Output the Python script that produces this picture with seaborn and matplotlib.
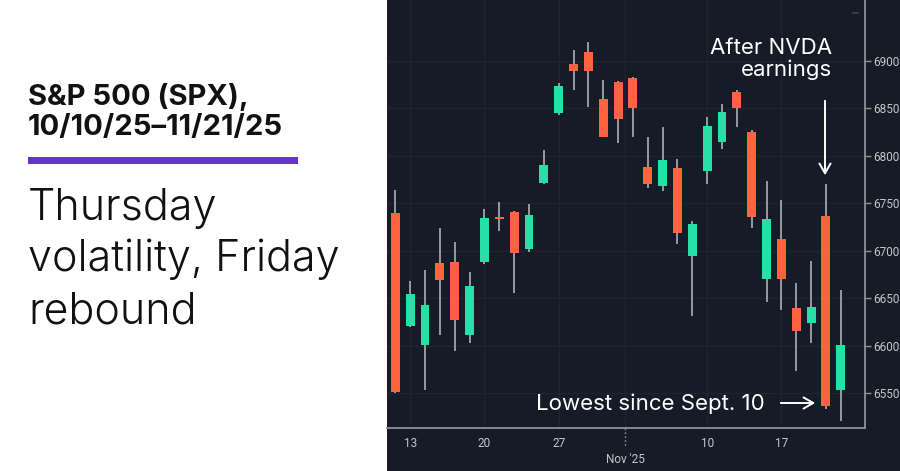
import numpy as np
import pandas as pd
import matplotlib
matplotlib.use("Agg")
import matplotlib.pyplot as plt
import matplotlib.transforms as mtransforms
from matplotlib import font_manager as fm
from matplotlib.patches import Rectangle
import seaborn as sns

# ---- data (S&P 500 daily OHLC, 10/10/25 - 11/21/25) ----
dates = ["10/10", "10/13", "10/14", "10/15", "10/16", "10/17",
         "10/20", "10/21", "10/22", "10/23", "10/24",
         "10/27", "10/28", "10/29", "10/30", "10/31",
         "11/03", "11/04", "11/05", "11/06", "11/07",
         "11/10", "11/11", "11/12", "11/13", "11/14",
         "11/17", "11/18", "11/19", "11/20", "11/21"]
opens = [6740, 6621, 6601, 6687, 6688, 6611,
         6688, 6736, 6741, 6702, 6771,
         6845, 6897, 6910, 6860, 6878,
         6882, 6788, 6768, 6787, 6695,
         6784, 6815, 6867, 6825, 6670,
         6713, 6640, 6624, 6737, 6553]
highs = [6764, 6668, 6680, 6724, 6709, 6678,
         6744, 6752, 6742, 6749, 6806,
         6877, 6912, 6920, 6880, 6879,
         6883, 6820, 6830, 6797, 6731,
         6841, 6855, 6870, 6827, 6774,
         6754, 6666, 6689, 6770, 6659]
lows = [6550, 6620, 6553, 6611, 6594, 6603,
        6686, 6721, 6656, 6699, 6770,
        6843, 6870, 6852, 6820, 6814,
        6820, 6766, 6763, 6707, 6631,
        6770, 6807, 6830, 6724, 6646,
        6638, 6573, 6603, 6533, 6521]
closes = [6551, 6655, 6643, 6669, 6627, 6663,
          6735, 6734, 6698, 6738, 6790,
          6874, 6890, 6890, 6820, 6839,
          6851, 6770, 6796, 6719, 6728,
          6832, 6846, 6850, 6736, 6734,
          6670, 6616, 6641, 6537, 6601]

x_tick_pos = [1, 6, 11, 15.5, 21, 26]
x_tick_labels = ["13", "20", "27", "", "10", "17"]
month_label = "Nov '25"
y_ticks = [6550, 6600, 6650, 6700, 6750, 6800, 6850, 6900]

df = pd.DataFrame({"date": dates, "open": opens, "high": highs,
                   "low": lows, "close": closes})
df["idx"] = np.arange(len(df))
df["up"] = df["close"] >= df["open"]
df["bottom"] = df[["open", "close"]].min(axis=1)
df["height"] = (df["close"] - df["open"]).abs()

BG = "#161c27"
GREEN = "#27e0a5"
RED = "#ff6241"
GRID = "#1e2531"
SPINE = "#8e9198"
TICKTXT = "#c3c6cb"
PURPLE = "#6633cc"

sns.set_theme(style="dark")
plt.rcParams["font.family"] = ["Inter", "DejaVu Sans"]

# choose a light-weight face for the subtitle if one is installed
light_family, light_weight = "Inter", "normal"
for fam in ["Inter", "Lato", "Open Sans", "Roboto", "Noto Sans"]:
    ws = [f.weight for f in fm.fontManager.ttflist if f.name == fam]
    ws_num = []
    for w in ws:
        try:
            ws_num.append(int(w))
        except (TypeError, ValueError):
            ws_num.append({"light": 300, "extra light": 200, "ultralight": 200,
                           "thin": 100}.get(str(w).lower(), 400))
    light = [w for w in ws_num if 200 <= w <= 300]
    if light:
        light_family, light_weight = fam, max(light)
        break

fig = plt.figure(figsize=(9, 4.71), dpi=100)
fig.patch.set_facecolor("white")
fig.patches.append(Rectangle((387 / 900, 0), 1 - 387 / 900, 1,
                             transform=fig.transFigure, facecolor=BG,
                             edgecolor="none", zorder=-10))

ax = fig.add_axes([387 / 900, 43 / 471, (865 - 387) / 900, 428 / 471])
ax.set_facecolor(BG)
ax.set_zorder(1)

# wicks
ax.vlines(df["idx"], df["low"], df["high"], color="#b9bcc2", lw=1.1, zorder=2)
# bodies
colors = [GREEN if u else RED for u in df["up"]]
ax.bar(df["idx"], df["height"], bottom=df["bottom"], width=0.6,
       color=colors, edgecolor="none", zorder=3)

ax.set_xlim(-0.56, 31.63)
ax.set_ylim(6513.4, 6964.3)

ax.set_xticks(x_tick_pos)
ax.set_xticklabels(x_tick_labels)
ax.set_yticks(y_ticks)
ax.set_yticklabels([str(v) for v in y_ticks])
ax.yaxis.tick_right()

ax.grid(True, color=GRID, lw=1.0)
ax.tick_params(axis="both", colors=SPINE, labelcolor=TICKTXT, labelsize=8.5,
               length=4, width=1, direction="out", pad=2.5,
               labelfontfamily="Roboto")
ax.tick_params(axis="y", pad=2)
for s in ["left", "top"]:
    ax.spines[s].set_visible(False)
for s in ["right", "bottom"]:
    ax.spines[s].set_visible(True)
    ax.spines[s].set_color(SPINE)
    ax.spines[s].set_linewidth(1.3)

# month marker below x-axis
trans = mtransforms.blended_transform_factory(ax.transData, ax.transAxes)
ax.plot([15.5, 15.5], [0, -0.045], transform=trans, color=SPINE, lw=1,
        ls=(0, (1.2, 1.6)), clip_on=False)
ax.text(15.5, -0.058, month_label, transform=trans, ha="center", va="top",
        color=TICKTXT, fontsize=8.5, family="Roboto")

# annotations
fig.text(832 / 900, 1 - 38 / 471, "After NVDA\nearnings",
         ha="right", va="top", color="white", fontsize=16, linespacing=1.1,
         zorder=5)
fig.add_artist(matplotlib.patches.FancyArrowPatch(
    (825 / 900, 1 - 98 / 471), (825 / 900, 1 - 178 / 471),
    transform=fig.transFigure,
    arrowstyle="->,head_length=7,head_width=4", color="white", lw=1.4,
    zorder=5))
fig.text(765 / 900, 1 - 404 / 471, "Lowest since Sept. 10", ha="right",
         va="center", color="white", fontsize=16, zorder=5)
fig.add_artist(matplotlib.patches.FancyArrowPatch(
    (778 / 900, 1 - 403 / 471), (818 / 900, 1 - 403 / 471),
    transform=fig.transFigure,
    arrowstyle="->,head_length=7,head_width=4", color="white", lw=1.4,
    zorder=5))

# small top-right mark
fig.patches.append(Rectangle((852 / 900, 1 - 14 / 471), 7 / 900, 2 / 471,
                             transform=fig.transFigure, facecolor="#363c48",
                             edgecolor="none", zorder=1))

# left panel text
fig.text(28 / 900, 1 - 105 / 471, "S&P 500 (SPX),", ha="left", va="baseline",
         color="#111111", fontsize=21, fontweight="bold")
fig.text(28 / 900, 1 - 135 / 471, "10/10/25\u201311/21/25", ha="left", va="baseline",
         color="#111111", fontsize=21, fontweight="bold")
fig.patches.append(Rectangle((28 / 900, 1 - 164 / 471), 270 / 900, 7 / 471,
                             transform=fig.transFigure, facecolor=PURPLE,
                             edgecolor="none"))
for i, line in enumerate(["Thursday", "volatility, Friday", "rebound"]):
    fig.text(28 / 900, 1 - (220 + 51.5 * i) / 471, line, ha="left", va="baseline",
             color="#111111", fontsize=31, fontweight=light_weight,
             family=[light_family, "DejaVu Sans"])

fig.savefig("out.png", dpi=100, facecolor=fig.get_facecolor())
